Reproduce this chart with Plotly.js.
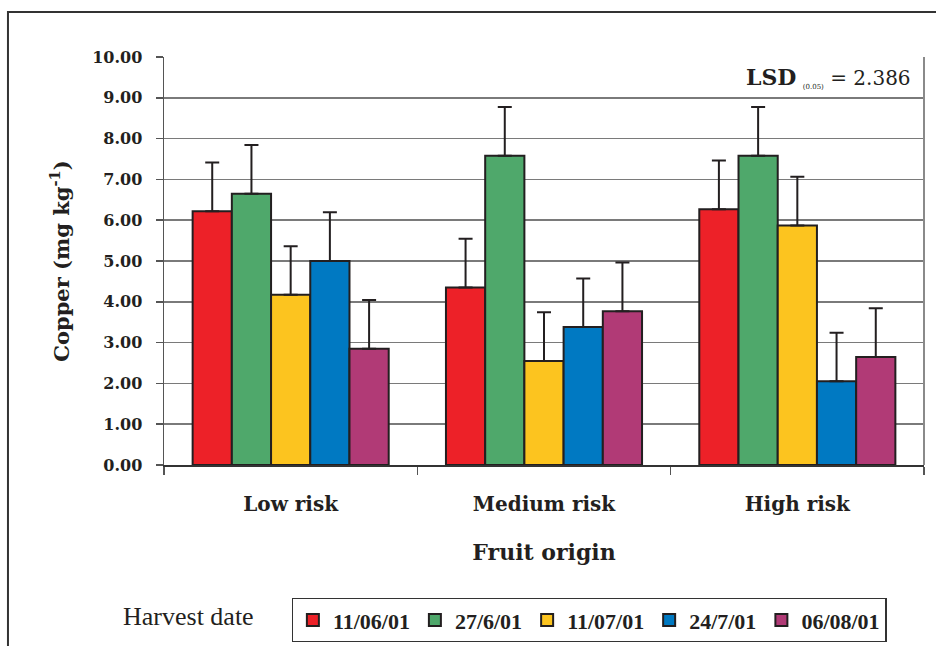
<!DOCTYPE html>
<html>
<head>
<meta charset="utf-8">
<script src="https://cdn.plot.ly/plotly-3.0.1.min.js"></script>
<style>
  html, body { margin: 0; padding: 0; background: #fff; }
  #chart { width: 936px; height: 646px; }
</style>
</head>
<body>
<div id="chart"></div>
<script>
// Copper concentration in fruit by orchard risk class and harvest date
const origins = ["Low risk", "Medium risk", "High risk"];
const harvestDates = ["11/06/01", "27/6/01", "11/07/01", "24/7/01", "06/08/01"];
const colours = ["#ED2128", "#4FA86B", "#FCC41F", "#0079C2", "#B13A76"];

const copper_110601 = [6.22, 4.35, 6.27];
const copper_270601 = [6.65, 7.58, 7.58];
const copper_110701 = [4.17, 2.55, 5.87];
const copper_240701 = [5.00, 3.38, 2.05];
const copper_060801 = [2.85, 3.77, 2.65];
const seriesValues = [copper_110601, copper_270601, copper_110701, copper_240701, copper_060801];

// Least significant difference (P = 0.05); bars show half of it above each mean
const lsd = 2.386;
const halfLsd = lsd / 2;

const serif = "DejaVu Serif, Liberation Serif, serif";
const ink = "#231F20";

const traces = harvestDates.map((d, i) => ({
  type: "bar",
  name: d,
  x: origins,
  y: seriesValues[i],
  marker: { color: colours[i], line: { color: ink, width: 2 } },
  error_y: {
    type: "data",
    symmetric: false,
    array: seriesValues[i].map(() => halfLsd),
    arrayminus: seriesValues[i].map(() => 0),
    color: ink,
    thickness: 2,
    width: 7
  }
}));

const layout = {
  width: 936,
  height: 646,
  margin: { l: 164, r: 12, t: 57, b: 181, autoexpand: false },
  paper_bgcolor: "#fff",
  plot_bgcolor: "#fff",
  barmode: "group",
  bargap: 0.226,
  bargroupgap: 0,
  showlegend: true,
  legend: {
    orientation: "h",
    x: 0.168, xanchor: "left",
    y: -0.326, yanchor: "top",
    bordercolor: "#333",
    borderwidth: 1.2,
    font: { family: "Liberation Serif, serif", size: 22, color: ink, weight: "bold" },
    itemwidth: 30,
    tracegroupgap: 0
  },
  xaxis: {
    type: "category",
    showline: true,
    linecolor: "#333",
    linewidth: 1.5,
    ticks: "outside",
    tickson: "boundaries",
    ticklen: 8,
    tickcolor: "#555",
    tickwidth: 1.5,
    ticklabelstandoff: 20,
    tickfont: { family: serif, size: 20, color: ink, weight: "bold" },
    showgrid: false,
    zeroline: false,
    title: {
      text: "Fruit origin",
      font: { family: serif, size: 22, color: ink, weight: "bold" },
      standoff: 30
    },
    fixedrange: true
  },
  yaxis: {
    range: [0, 10],
    dtick: 1,
    tickformat: ".2f",
    showline: true,
    linecolor: "#555",
    linewidth: 1.5,
    ticks: "outside",
    ticklen: 7,
    tickcolor: "#555",
    tickwidth: 1.5,
    ticklabelstandoff: 10,
    tickfont: { family: serif, size: 16, color: ink, weight: "bold" },
    showgrid: true,
    gridcolor: "#7a7a7a",
    gridwidth: 1.6,
    zeroline: false,
    title: {
      text: "Copper (mg kg<sup>-1</sup>)",
      font: { family: serif, size: 21, color: ink, weight: "bold" },
      standoff: 17
    },
    fixedrange: true
  },
  shapes: [
    // outer frame
    { type: "rect", xref: "paper", yref: "paper",
      x0: -0.2053, x1: 1.03, y0: -0.46, y1: 1.1103,
      line: { color: "#333", width: 2 }, fillcolor: "rgba(0,0,0,0)", layer: "below" },
    // right border of plotting area
    { type: "line", xref: "paper", yref: "paper",
      x0: 1, x1: 1, y0: 0, y1: 1,
      line: { color: "#8a8a8a", width: 2 } }
  ],
  annotations: [
    { xref: "paper", yref: "paper", x: 0.985, y: 0.95, xanchor: "right", yanchor: "middle",
      showarrow: false,
      text: "<span style=\"font-size:22px;font-weight:bold\">LSD</span> <sub><span style=\"font-size:7px\">(0.05)</span></sub> = 2.386",
      font: { family: "DejaVu Serif, serif", size: 20, color: ink } },
    { xref: "paper", yref: "paper", x: 0.0316, y: -0.3725, xanchor: "center", yanchor: "middle",
      showarrow: false,
      text: "Harvest date",
      font: { family: "Liberation Serif, serif", size: 26, color: ink } }
  ]
};

Plotly.newPlot("chart", traces, layout, { displayModeBar: false, staticPlot: true });
</script>
</body>
</html>
